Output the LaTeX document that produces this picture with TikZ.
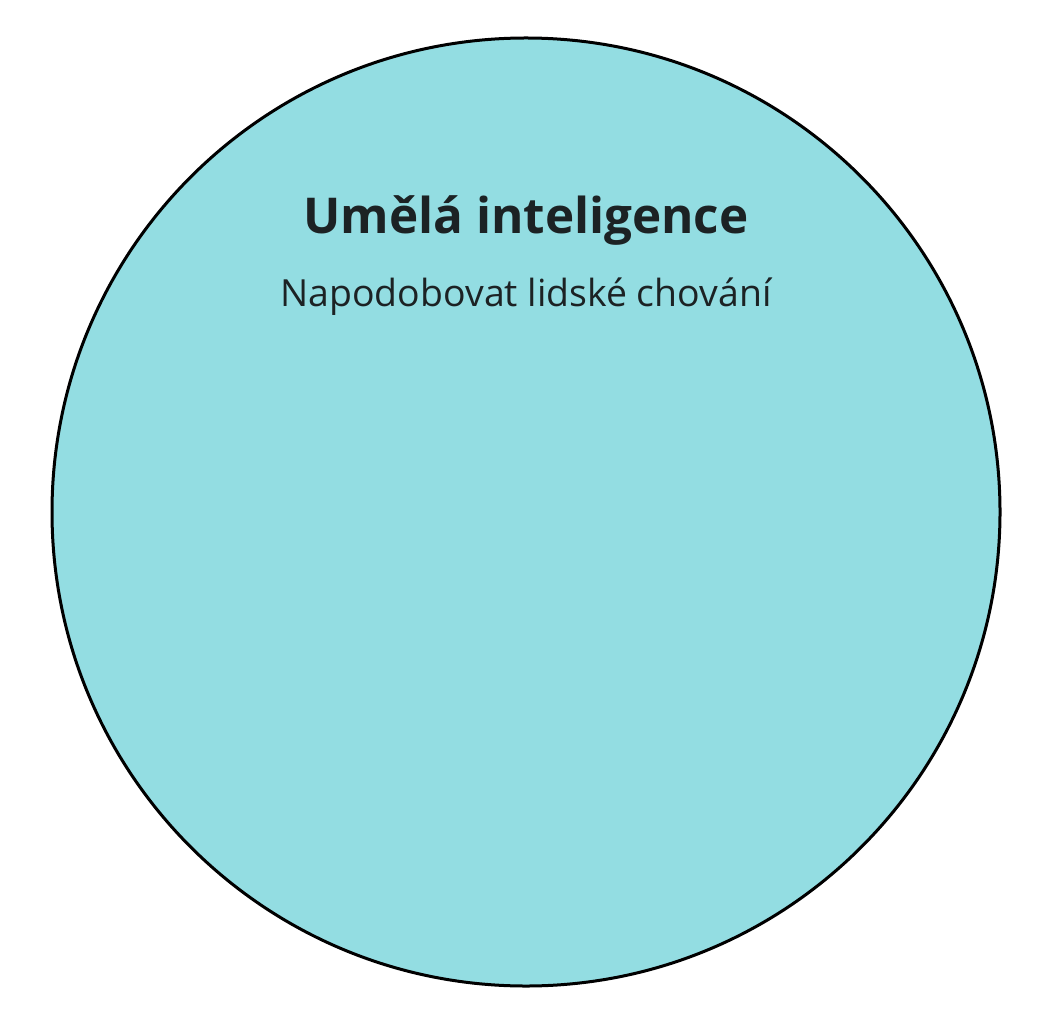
\documentclass[tikz,border=0pt]{standalone}
\usepackage{fontspec}
\setmainfont{Open Sans}
\usepackage{tikz}
\definecolor{aiblue}{HTML}{93DDE2}
\definecolor{inkdark}{HTML}{1C2224}
\tikzset{x=1pt, y=1pt}
\tikzset{title/.style={anchor=base, text=inkdark, font=\fontsize{24.7}{30}\selectfont\bfseries, inner sep=0pt}}
\tikzset{subtitle/.style={anchor=base, text=inkdark, font=\fontsize{18.7}{23}\selectfont, inner sep=0pt}}

\begin{document}
\begin{tikzpicture}
    \useasboundingbox(0, 0)rectangle(526, 512);
    \draw[line width=1.5pt, fill=aiblue](263, 256)circle(237);
    \node[title](ai)at(263, 395){Umělá inteligence};
    \node[subtitle](aidesc)at(263, 359){Napodobovat lidské chování};
\end{tikzpicture}
\end{document}
